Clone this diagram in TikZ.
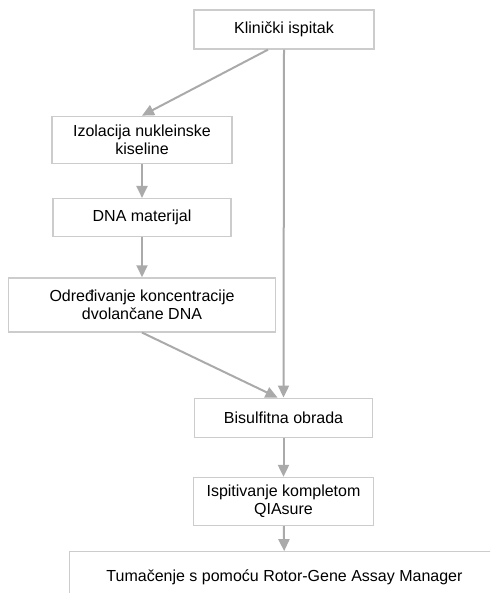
\documentclass[tikz,border=0pt]{standalone}
\usepackage{fontspec}
\setmainfont{Liberation Sans}
\usetikzlibrary{positioning,arrows.meta}
\definecolor{boxgray}{RGB}{204,204,204}
\definecolor{arrowgray}{RGB}{170,170,170}

\begin{document}
\begin{tikzpicture}[x=1pt, y=-1pt, font=\fontsize{16}{18}\selectfont]
    \tikzstyle{stage}=[rectangle, draw=boxgray, line width=1.3pt, inner sep=0pt, align=center, minimum width=180pt, minimum height=39pt]
    \tikzstyle{connect}=[-{Triangle[width=11pt,length=12pt]}, draw=arrowgray, fill=arrowgray, line width=2pt]

      \useasboundingbox (0,0) rectangle (490,593);
      \clip (0,0) rectangle (490,593);

      \node[stage] (klin) at (284,29.5) {Klinički ispitak};
      \node[stage, minimum height=47pt] (izol) [below=66pt of klin, xshift=-142pt] {Izolacija nukleinske\\kiseline};
      \node[stage, minimum width=178pt, minimum height=38pt] (dna) [below=34pt of izol] {DNA materijal};
      \node[stage, minimum width=267pt, minimum height=54pt] (odr) [below=40pt of dna] {Određivanje koncentracije\\dvolančane DNA};
      \node[stage, minimum width=178pt] (bis) [below=65pt of odr, xshift=141.5pt] {Bisulfitna obrada};
      \node[stage, minimum height=48pt] (isp) [below=39pt of bis] {Ispitivanje kompletom\\QIAsure};
      \node[stage, minimum width=430pt, minimum height=50pt] (tum) [below=25pt of isp, xshift=1pt] {Tumačenje s pomoću Rotor-Gene Assay Manager};
      \path
        ([xshift=-16pt]klin.south) edge [connect] (izol.north)
        (klin.south) edge [connect] (bis.north)
        (izol) edge [connect] (dna)
        (dna) edge [connect] (odr)
        (odr.south) edge [connect] ([xshift=-6pt]bis.north)
        (bis) edge [connect] (isp)
        (isp) edge [connect] (tum);
    \end{tikzpicture}
\end{document}
